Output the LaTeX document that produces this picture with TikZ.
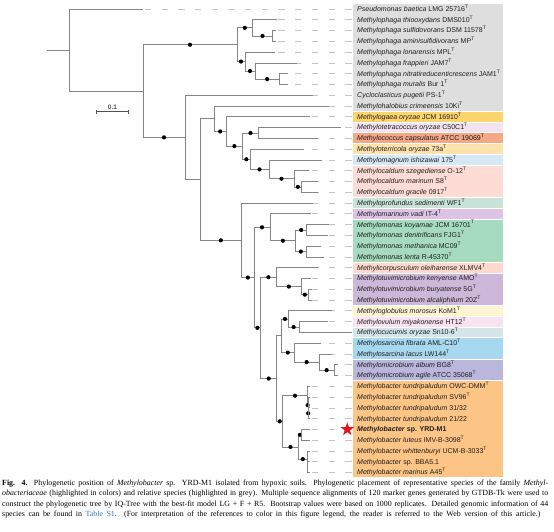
\documentclass[tikz,border=0pt]{standalone}
\usepackage{fontspec}
\setmainfont{Liberation Serif}
\setsansfont{Liberation Sans}
\usetikzlibrary{calc,shapes.geometric}
\definecolor{brc}{HTML}{858585}
\definecolor{ldc}{HTML}{C4C4C4}
\definecolor{labc}{HTML}{1E1E1E}
\definecolor{sbc}{HTML}{505050}
\definecolor{cgrey}{HTML}{DEDEDE}
\definecolor{cgold}{HTML}{FBD46C}
\definecolor{clav}{HTML}{F2E3EF}
\definecolor{csalm}{HTML}{F5A886}
\definecolor{cpeach}{HTML}{FDE2AC}
\definecolor{cltblue}{HTML}{D6E8F6}
\definecolor{cpink}{HTML}{FCDCD4}
\definecolor{cgreygreen}{HTML}{C9E3D8}
\definecolor{corchid}{HTML}{DDC4E7}
\definecolor{cgreen}{HTML}{A6DBBF}
\definecolor{cpink2}{HTML}{FDD8CD}
\definecolor{cpurple}{HTML}{CDB8D9}
\definecolor{cyellow}{HTML}{FEF4D2}
\definecolor{cpink3}{HTML}{FAE3F1}
\definecolor{cbluegrey}{HTML}{D5E6EA}
\definecolor{csky}{HTML}{A8D8F0}
\definecolor{cblulav}{HTML}{BAB6DC}
\definecolor{corange}{HTML}{FDC585}
\definecolor{starred}{HTML}{E3161E}
\definecolor{linkblue}{HTML}{2B7BBF}
\newcommand\mkband[3]{\fill[#3] (353,{9+(#1-1)*10.78-4.9}) rectangle (503,{9+(#2-1)*10.78+4.9});}
\newcommand\mkleaf[3]{%
  \coordinate (e#1) at (#2,{9+(#1-1)*10.78});
  \coordinate (d#1) at (351.5,{9+(#1-1)*10.78});
  \node[lab] (t#1) at (357,{9+(#1-1)*10.78+2.4}) {#3};}
\newcommand\tbr[2]{\draw[brs] (#1) |- (#2);}
\newcommand\tbrd[2]{\draw[brs] (#1) |- (#2); \fill ($(#1 |- #2)!.5!(#2)$) circle (2.1pt);}
\newcommand\tld[1]{\draw[leader] (d#1) -- (e#1);}
\newcommand\ST{\textsuperscript{T}}
\begin{document}
\begin{tikzpicture}[x=1pt,y=-1pt,
  brs/.style={draw=brc, line width=0.75pt},
  leader/.style={draw=ldc, line width=0.7pt, dash pattern=on 6.3pt off 10.4pt},
  lab/.style={anchor=base west, inner sep=0pt, font=\sffamily\fontsize{7}{8}\selectfont, text=labc},
]
\useasboundingbox (0,0) rectangle (554,531);
% colour bands
\mkband{1}{10}{cgrey}
\mkband{11}{11}{cgold}
\mkband{12}{12}{clav}
\mkband{13}{13}{csalm}
\mkband{14}{14}{cpeach}
\mkband{15}{15}{cltblue}
\mkband{16}{18}{cpink}
\mkband{19}{19}{cgreygreen}
\mkband{20}{20}{corchid}
\mkband{21}{24}{cgreen}
\mkband{25}{25}{cpink2}
\mkband{26}{28}{cpurple}
\mkband{29}{29}{cyellow}
\mkband{30}{30}{cpink3}
\mkband{31}{31}{cbluegrey}
\mkband{32}{33}{csky}
\mkband{34}{35}{cblulav}
\mkband{36}{44}{corange}
% leaves
\mkleaf{1}{143}{\textit{Pseudomonas baetica} LMG 25716\ST}
\mkleaf{2}{276.7}{\textit{Methylophaga thiooxydans} DMS010\ST}
\mkleaf{3}{276}{\textit{Methylophaga sulfidovorans} DSM 11578\ST}
\mkleaf{4}{276}{\textit{Methylophaga aminisulfidivorans} MP\ST}
\mkleaf{5}{275}{\textit{Methylophaga lonarensis} MPL\ST}
\mkleaf{6}{296.7}{\textit{Methylophaga frappieri} JAM7\ST}
\mkleaf{7}{288.3}{\textit{Methylophaga nitratireducenticrescens} JAM1\ST}
\mkleaf{8}{288.3}{\textit{Methylophaga muralis} Bur 1\ST}
\mkleaf{9}{312.5}{\textit{Cycloclasticus pugetii} PS-1\ST}
\mkleaf{10}{329}{\textit{Methylohalobius crimeensis} 10Ki\ST}
\mkleaf{11}{310}{\textit{Methylogaea oryzae} JCM 16910\ST}
\mkleaf{12}{341}{\textit{Methylotetracoccus oryzae} C50C1\ST}
\mkleaf{13}{318}{\textit{Methylococcus capsulatus} ATCC 19069\ST}
\mkleaf{14}{304}{\textit{Methyloterricola oryzae} 73a\ST}
\mkleaf{15}{322}{\textit{Methylomagnum ishizawai} 175\ST}
\mkleaf{16}{309}{\textit{Methylocaldum szegediense} O-12\ST}
\mkleaf{17}{318}{\textit{Methylocaldum marinum} S8\ST}
\mkleaf{18}{318}{\textit{Methylocaldum gracile} 0917\ST}
\mkleaf{19}{313}{\textit{Methyloprofundus sedimenti} WF1\ST}
\mkleaf{20}{311}{\textit{Methylomarinum vadi} IT-4\ST}
\mkleaf{21}{329}{\textit{Methylomonas koyamae} JCM 16701\ST}
\mkleaf{22}{328}{\textit{Methylomonas denitrificans} FJG1\ST}
\mkleaf{23}{321}{\textit{Methylomonas methanica} MC09\ST}
\mkleaf{24}{324}{\textit{Methylomonas lenta} R-45370\ST}
\mkleaf{25}{318}{\textit{Methylicorpusculum oleiharense} XLMV4\ST}
\mkleaf{26}{311}{\textit{Methylotuvimicrobium kenyense} AMO\ST}
\mkleaf{27}{311.5}{\textit{Methylotuvimicrobium buryatense} 5G\ST}
\mkleaf{28}{311.5}{\textit{Methylotuvimicrobium alcaliphilum} 20Z\ST}
\mkleaf{29}{332}{\textit{Methyloglobulus morosus} KoM1\ST}
\mkleaf{30}{328}{\textit{Methylovulum miyakonense} HT12\ST}
\mkleaf{31}{352}{\textit{Methylocucumis oryzae} Sn10-6\ST}
\mkleaf{32}{320.5}{\textit{Methylosarcina fibrata} AML-C10\ST}
\mkleaf{33}{332}{\textit{Methylosarcina lacus} LW144\ST}
\mkleaf{34}{337.5}{\textit{Methylomicrobium album} BG8\ST}
\mkleaf{35}{337.5}{\textit{Methylomicrobium agile} ATCC 35068\ST}
\mkleaf{36}{309.5}{\textit{Methylobacter tundripaludum} OWC-DMM\ST}
\mkleaf{37}{309.5}{\textit{Methylobacter tundripaludum} SV96\ST}
\mkleaf{38}{309.5}{\textit{Methylobacter tundripaludum} 31/32}
\mkleaf{39}{309.5}{\textit{Methylobacter tundripaludum} 21/22}
\mkleaf{40}{310}{\textbf{\textit{Methylobacter} sp. YRD-M1}}
\mkleaf{41}{310}{\textit{Methylobacter luteus} IMV-B-3098\ST}
\mkleaf{42}{309.5}{\textit{Methylobacter whittenburyi} UCM-B-3033\ST}
\mkleaf{43}{309.5}{\textit{Methylobacter} sp. BBA5.1}
\mkleaf{44}{309.5}{\textit{Methylobacter marinus} A45\ST}
% leaders
\foreach \i in {1,...,30,32,33,34,35,36,37,38,39,40,41,42,43,44} {\tld{\i}}
% internal nodes
\coordinate (root0) at (46.7,50.02);
\coordinate (R0) at (69.3,50.02);
\coordinate (B) at (143,91.045);
\coordinate (A) at (237,44.709);
\coordinate (A1) at (252.7,27.865);
\coordinate (A11) at (272.3,35.95);
\coordinate (A2) at (245,61.5525);
\coordinate (A21) at (255,70.985);
\coordinate (A22) at (279.3,79.07);
\coordinate (B2) at (185,137.381);
\coordinate (C) at (200,179.522);
\coordinate (D) at (214.3,118.737);
\coordinate (E) at (226,131.454);
\coordinate (F) at (242.7,146.108);
\coordinate (G) at (258.3,132.97);
\coordinate (H) at (250,159.246);
\coordinate (I) at (269,169.3525);
\coordinate (J) at (294,178.785);
\coordinate (K) at (301.7,186.87);
\coordinate (L) at (241.7,240.307);
\coordinate (M) at (254,277.5735);
\coordinate (N) at (270,227.295);
\coordinate (O) at (295.7,240.77);
\coordinate (P) at (306.7,229.99);
\coordinate (Q) at (306,251.55);
\coordinate (S) at (260.7,327.852);
\coordinate (R) at (276,277.1525);
\coordinate (T) at (301.7,286.585);
\coordinate (U) at (308,294.67);
\coordinate (V) at (276.7,378.552);
\coordinate (W) at (281.7,335.769);
\coordinate (X) at (288.3,318.925);
\coordinate (Y) at (299,327.01);
\coordinate (Z) at (294,352.6125);
\coordinate (AA) at (319.3,362.045);
\coordinate (AB) at (334,370.13);
\coordinate (AC) at (282.7,421.335);
\coordinate (AD) at (307.3,395.7325);
\coordinate (AE) at (307.9,405.165);
\coordinate (AF) at (308.4,413.25);
\coordinate (AG) at (298.3,446.9375);
\coordinate (AH) at (301.7,434.81);
\coordinate (AI) at (307.3,459.065);
\coordinate (AJ) at (307.8,467.15);
% branches
\draw[brs] (root0) -- (R0);
\tbr{R0}{e1} \tbr{R0}{B}
\tbrd{B}{A} \tbrd{B}{B2}
\tbrd{A}{A1} \tbrd{A}{A2}
\tbr{A1}{e2} \tbrd{A1}{A11} \tbr{A11}{e3} \tbr{A11}{e4}
\tbr{A2}{e5} \tbrd{A2}{A21} \tbr{A21}{e6} \tbrd{A21}{A22} \tbr{A22}{e7} \tbr{A22}{e8}
\tbr{B2}{e9} \tbr{B2}{C}
\tbr{C}{D} \tbrd{C}{L}
\tbr{D}{e10} \tbrd{D}{E}
\tbr{E}{e11} \tbrd{E}{F}
\tbrd{F}{G} \tbrd{F}{H}
\tbr{G}{e12} \tbr{G}{e13}
\tbr{H}{e14} \tbrd{H}{I}
\tbr{I}{e15} \tbrd{I}{J}
\tbr{J}{e16} \tbrd{J}{K}
\tbr{K}{e17} \tbr{K}{e18}
\tbr{L}{e19} \tbrd{L}{M}
\tbrd{M}{N} \tbrd{M}{S}
\tbr{N}{e20} \tbrd{N}{O}
\tbrd{O}{P} \tbrd{O}{Q}
\tbr{P}{e21} \tbr{P}{e22} \tbr{Q}{e23} \tbr{Q}{e24}
\tbrd{S}{R} \tbrd{S}{V}
\tbr{R}{e25} \tbrd{R}{T}
\tbr{T}{e26} \tbrd{T}{U} \tbr{U}{e27} \tbr{U}{e28}
\tbr{V}{W} \tbrd{V}{AC}
\tbrd{W}{X} \tbrd{W}{Z}
\tbr{X}{e29} \tbrd{X}{Y} \tbr{Y}{e30} \tbr{Y}{e31}
\tbr{Z}{e32} \tbrd{Z}{AA} \tbr{AA}{e33} \tbrd{AA}{AB} \tbr{AB}{e34} \tbr{AB}{e35}
\tbrd{AC}{AD} \tbrd{AC}{AG}
\tbr{AD}{e36} \tbrd{AD}{AE} \tbr{AE}{e37} \tbrd{AE}{AF} \tbr{AF}{e38} \tbr{AF}{e39}
\tbrd{AG}{AH} \tbrd{AG}{AI}
\tbr{AH}{e40} \tbr{AH}{e41}
\tbr{AI}{e42} \tbr{AI}{AJ} \tbr{AJ}{e43} \tbr{AJ}{e44}
% star
\node[star, star points=5, star point ratio=2.5, fill=starred, inner sep=0pt, minimum size=14pt] (star) at (347.3,429.4) {};
% scale bar
\coordinate (sb1) at (96.7,111.7);
\coordinate (sb2) at (128.3,111.7);
\draw[sbc, line width=1pt] (sb1) -- (sb2);
\draw[sbc, line width=0.8pt] ([yshift=-2pt]sb1) -- ([yshift=2pt]sb1);
\draw[sbc, line width=0.8pt] ([yshift=-2pt]sb2) -- ([yshift=2pt]sb2);
\node[anchor=base, inner sep=0pt, font=\sffamily\bfseries\fontsize{6.5}{7}\selectfont, text=sbc] (sbl) at (112.5,109.3) {0.1};
% caption
\node[anchor=north west, inner sep=0pt, text width=546pt, align=justify, font=\fontsize{7.9}{10.5}\selectfont] (cap) at (2,479.3) {\parfillskip=0pt plus 5pt\relax\textbf{Fig. 4.} Phylogenetic position of \textit{Methylobacter} sp. YRD-M1 isolated from hypoxic soils. Phylogenetic placement of representative species of the family \textit{Methyl-}\linebreak\textit{obacteriaceae} (highlighted in colors) and relative species (highlighted in grey). Multiple sequence alignments of 120 marker genes generated by GTDB-Tk were used to\linebreak construct the phylogenetic tree by IQ-Tree with the best-fit model LG + F + R5. Bootstrap values were based on 1000 replicates. Detailed genomic information of 44\linebreak species can be found in \textcolor{linkblue}{Table S1}. (For interpretation of the references to color in this figure legend, the reader is referred to the Web version of this article.)\par};
\end{tikzpicture}
\end{document}
